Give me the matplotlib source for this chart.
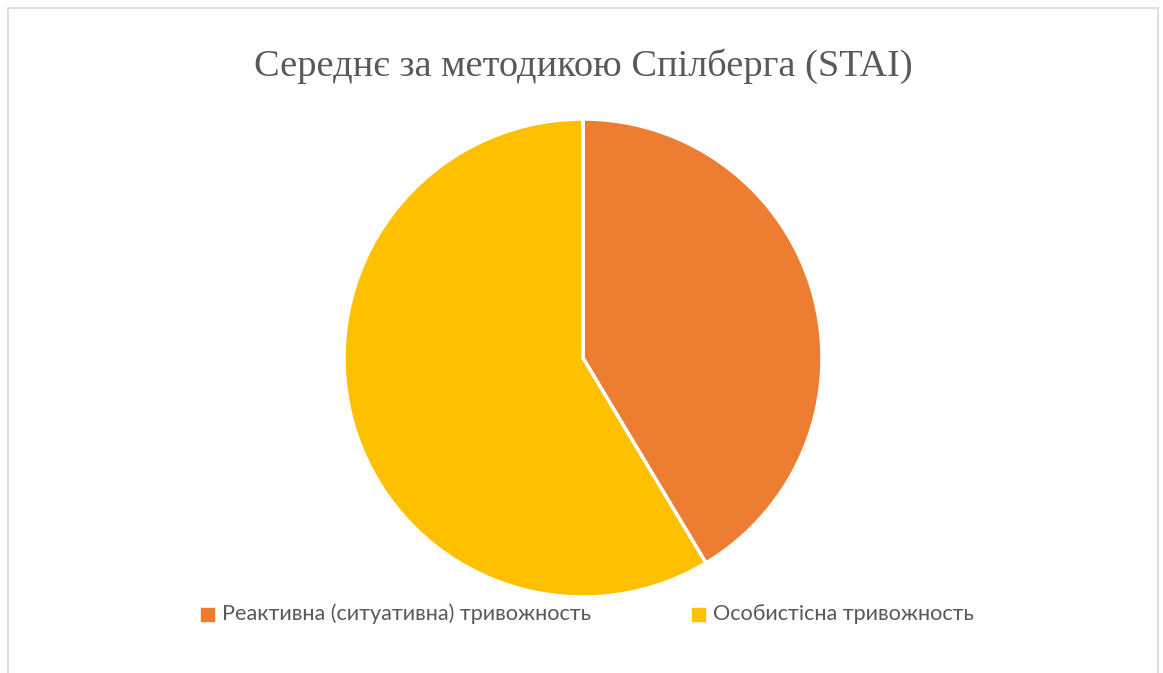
import matplotlib.pyplot as plt
from matplotlib.patches import Rectangle

labels = ['Реактивна (ситуативна) тривожность', 'Особистісна тривожность']
values = [41.4, 58.6]
colors = ['#ED7D31', '#FFC000']

W, H = 1163, 673
fig = plt.figure(figsize=(W / 100, H / 100), dpi=100)

# chart frame
fig.patches.append(Rectangle((8 / W, -0.1), 1150 / W, 1.1 - 8 / H, transform=fig.transFigure,
                             fill=False, edgecolor='#d9d9d9', linewidth=1.2))

cx, cy, r = 583, 358, 239
ax = fig.add_axes([(cx - r) / W, (H - cy - r) / H, 2 * r / W, 2 * r / H])
ax.pie(values, colors=colors, startangle=90, counterclock=False, radius=1,
       wedgeprops=dict(edgecolor='white', linewidth=2.5))
ax.set_xlim(-1, 1)
ax.set_ylim(-1, 1)
ax.set_aspect('equal')
ax.axis('off')

fig.text(cx / W, 1 - 66 / H, 'Середнє за методикою Спілберга (STAI)', ha='center', va='center',
         fontsize=27.6, family='Liberation Serif', color='#595959')

# legend
for lx, lab, col in [(207, labels[0], colors[0]), (698, labels[1], colors[1])]:
    fig.patches.append(Rectangle(((lx - 6.5) / W, 1 - 621 / H), 13 / W, 13 / H,
                                 transform=fig.transFigure, color=col))
    fig.text((lx + 15) / W, 1 - 614 / H, lab, ha='left', va='center',
             fontsize=15.6, family='Lato', color='#595959')

fig.savefig('out.png', dpi=100)
